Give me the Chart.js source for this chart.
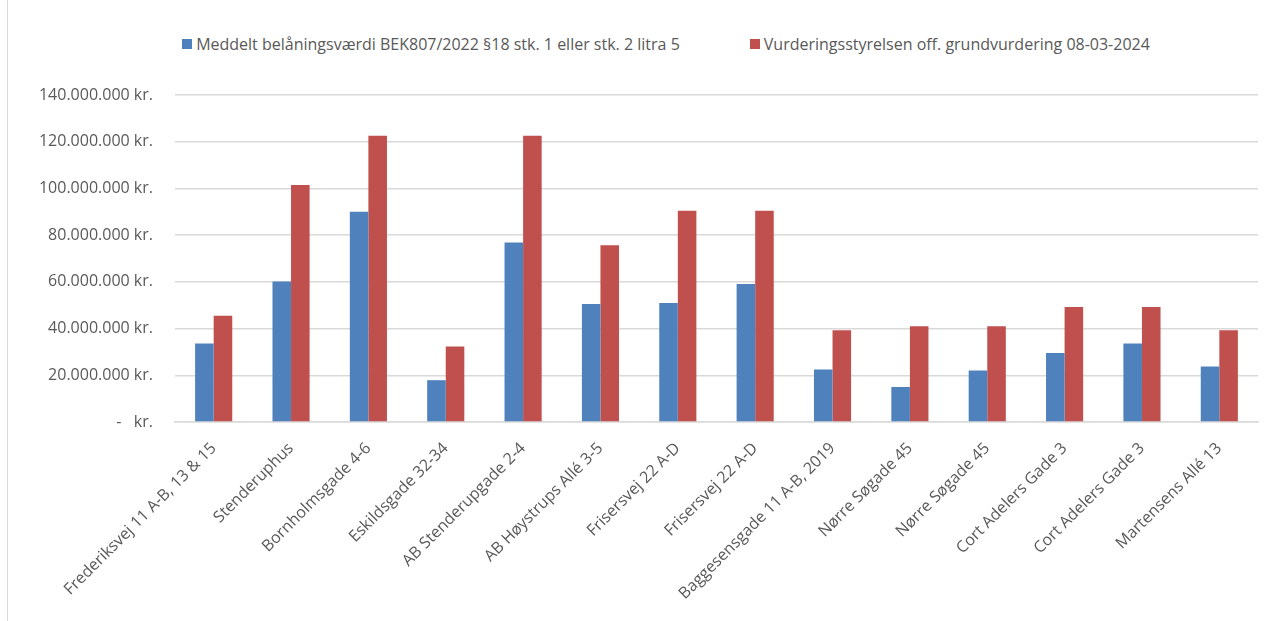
<!DOCTYPE html>
<html lang="da">
<head>
<meta charset="utf-8">
<title>Belåningsværdi vs. offentlig grundvurdering</title>
<script src="https://cdn.jsdelivr.net/npm/chart.js@4.4.1/dist/chart.umd.min.js"></script>
<style>
    html, body { margin: 0; padding: 0; background: #fff; }
    #wrap {
        position: relative;
        width: 1274px;
        height: 621px;
        overflow: hidden;
    }
    #frame {
        position: absolute;
        left: 7px; top: 0; bottom: 0;
        border-left: 1.5px solid #d9d9d9;
    }
    #legend {
        position: absolute;
        top: 33px;
        left: 0;
        width: 1274px;
        display: flex;
        justify-content: center;
        gap: 70px;
        font-family: "Open Sans", sans-serif;
        font-size: 16px;
        color: #595959;
        padding-left: 58px;
        box-sizing: border-box;
    }
    .item { display: flex; align-items: center; white-space: nowrap; }
    .swatch { width: 10px; height: 10px; margin-right: 4px; }
    canvas { position: absolute; left: 0; top: 0; }
</style>
</head>
<body>
<div id="wrap">
    <div id="frame"></div>
    <div id="legend"></div>
    <canvas id="chart" width="1274" height="621"></canvas>
</div>
<script>
// ────────────────────────────────────────────────
// Data
// ────────────────────────────────────────────────
const properties = [
    'Frederiksvej 11 A-B, 13 & 15',
    'Stenderuphus',
    'Bornholmsgade 4-6',
    'Eskildsgade 32-34',
    'AB Stenderupgade 2-4',
    'AB Høystrups Allé 3-5',
    'Frisersvej 22 A-D',
    'Frisersvej 22 A-D',
    'Baggesensgade 11 A-B, 2019',
    'Nørre Søgade 45',
    'Nørre Søgade 45',
    'Cort Adelers Gade 3',
    'Cort Adelers Gade 3',
    'Martensens Allé 13'
];

const loanValue = [
    33600000, 60100000, 90000000, 17900000, 76800000, 50500000, 50900000,
    59100000, 22500000, 15000000, 22000000, 29500000, 33600000, 23800000
];

const publicValuation = [
    45500000, 101500000, 122600000, 32300000, 122600000, 75700000, 90400000,
    90400000, 39300000, 41000000, 41000000, 49200000, 49200000, 39300000
];

const seriesNames = [
    'Meddelt belåningsværdi BEK807/2022 §18 stk. 1 eller stk. 2 litra 5',
    'Vurderingsstyrelsen off. grundvurdering 08-03-2024'
];

const yMax = 140000000;
const yStep = 20000000;

const colors = ['#4f81bd', '#c0504d'];

// ────────────────────────────────────────────────
// Helpers
// ────────────────────────────────────────────────

// Danish accounting style: 140.000.000 kr.  /  -   kr.
function formatKr(value) {
    if (value === 0) return '-\u00a0\u00a0\u00a0kr.';
    const s = Math.round(value).toString().replace(/\B(?=(\d{3})+(?!\d))/g, '.');
    return s + ' kr.';
}

function buildLegend() {
    const el = document.getElementById('legend');
    seriesNames.forEach((name, i) => {
        const item = document.createElement('div');
        item.className = 'item';
        item.innerHTML = `<span class="swatch" style="background:${colors[i]}"></span><span></span>`;
        item.lastChild.textContent = name;
        el.appendChild(item);
    });
}

// ────────────────────────────────────────────────
// Chart
// ────────────────────────────────────────────────
buildLegend();

const tickFont = { family: '"Open Sans", sans-serif', size: 16 };

new Chart(document.getElementById('chart'), {
    type: 'bar',
    data: {
        labels: properties,
        datasets: [
            { label: seriesNames[0], data: loanValue, backgroundColor: colors[0] },
            { label: seriesNames[1], data: publicValuation, backgroundColor: colors[1] }
        ]
    },
    options: {
        responsive: false,
        animation: false,
        devicePixelRatio: 1,
        layout: { padding: { top: 95, right: 16, bottom: 0, left: 0 } },
        datasets: {
            bar: { categoryPercentage: 0.48, barPercentage: 1 }
        },
        plugins: {
            legend: { display: false },
            tooltip: { enabled: false }
        },
        scales: {
            x: {
                grid: { display: false },
                border: { color: '#d9d9d9', width: 1.5 },
                ticks: {
                    color: '#595959',
                    font: tickFont,
                    minRotation: 45,
                    maxRotation: 45,
                    autoSkip: false,
                    padding: 9
                },
                afterFit(scale) { scale.height = 199; }
            },
            y: {
                min: 0,
                max: yMax,
                border: { display: false },
                grid: { color: '#d9d9d9', lineWidth: 1.5, drawTicks: false },
                ticks: {
                    stepSize: yStep,
                    color: '#595959',
                    font: tickFont,
                    padding: 22,
                    callback: value => formatKr(value)
                },
                afterFit(scale) { scale.width = 175; }
            }
        }
    }
});
</script>
</body>
</html>
